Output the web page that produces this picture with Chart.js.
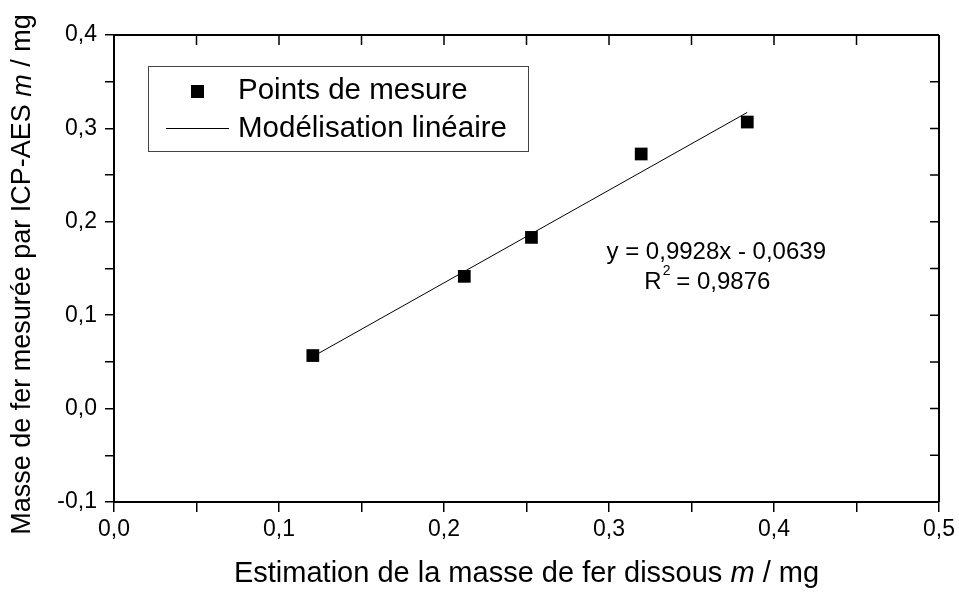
<!DOCTYPE html>
<html>
<head>
<meta charset="utf-8">
<script src="https://cdn.jsdelivr.net/npm/chart.js@4"></script>
<style>
  html, body { margin: 0; padding: 0; background: #fff; }
  #wrap { width: 959px; height: 595px; }
</style>
</head>
<body>
<div id="wrap"><canvas id="canvas" width="959" height="595"></canvas></div>
<script>
// values
var estimX = [0.1205, 0.2123, 0.253, 0.3195, 0.3838];
var mesureY = [0.0568, 0.1416, 0.1833, 0.2726, 0.3068];
var fitX = [0.1205, 0.3838];
var fitY = [0.0557, 0.3171];
var seriesNames = ['Points de mesure', 'Modélisation linéaire'];
var equationLines = ['y = 0,9928x - 0,0639', 'R', ' = 0,9876'];
var xTitle = [['Estimation de la masse de fer dissous ', false], ['m', true], [' / mg', false]];
var yTitle = [['Masse de fer mesurée par ICP-AES ', false], ['m', true], [' / mg', false]];

var FONT = '"Liberation Sans", Arial, sans-serif';

function pairs(xs, ys) {
    var out = [];
    for (var i = 0; i < xs.length; i++) out.push({x: xs[i], y: ys[i]});
    return out;
}

function fmt(v) {
    var t = Math.round(v * 100) / 100;
    if (Math.abs(Math.round(t * 10) - t * 10) > 1e-6) return '';
    return t.toFixed(1).replace('.', ',');
}

// draws a title with an italic part, centred on (cx, cy)
function mixedText(ctx, parts, size, cx, cy, angle) {
    var total = 0;
    parts.forEach(function(p) {
        ctx.font = (p[1] ? 'italic ' : '') + size + 'px ' + FONT;
        total += ctx.measureText(p[0]).width;
    });
    ctx.save();
    ctx.translate(cx, cy);
    ctx.rotate(angle);
    ctx.textAlign = 'left';
    ctx.textBaseline = 'middle';
    var x = -total / 2;
    parts.forEach(function(p) {
        ctx.font = (p[1] ? 'italic ' : '') + size + 'px ' + FONT;
        ctx.fillText(p[0], x, 0);
        x += ctx.measureText(p[0]).width;
    });
    ctx.restore();
}

// frame, inward ticks on top/right, legend box, titles and equation
var extras = {
    id: 'extras',
    afterDraw: function(chart) {
        var ctx = chart.ctx;
        var a = chart.chartArea;
        var xs = chart.scales.x, ys = chart.scales.y;
        ctx.save();
        ctx.strokeStyle = '#000';
        ctx.lineWidth = 2;
        ctx.beginPath();
        ctx.moveTo(a.left, a.top); ctx.lineTo(a.right, a.top);
        ctx.moveTo(a.right, a.top); ctx.lineTo(a.right, a.bottom);
        ctx.stroke();

        ctx.lineWidth = 1.5;
        ctx.beginPath();
        xs.ticks.forEach(function(t) {
            var px = xs.getPixelForValue(t.value);
            ctx.moveTo(px, a.top); ctx.lineTo(px, a.top + 10);
        });
        ys.ticks.forEach(function(t) {
            var py = ys.getPixelForValue(t.value);
            ctx.moveTo(a.right, py); ctx.lineTo(a.right - 9, py);
        });
        ctx.stroke();

        // legend
        ctx.lineWidth = 1;
        ctx.strokeStyle = '#444';
        ctx.strokeRect(148.5, 66.5, 380, 85);
        ctx.fillStyle = '#000';
        ctx.fillRect(191, 85, 13, 13);
        ctx.strokeStyle = '#000';
        ctx.beginPath();
        ctx.moveTo(166, 128.5); ctx.lineTo(229, 128.5);
        ctx.stroke();
        ctx.font = '29.5px ' + FONT;
        ctx.textBaseline = 'middle';
        ctx.textAlign = 'left';
        ctx.fillText(chart.data.datasets[0].label, 238, 91);
        ctx.fillText(chart.data.datasets[1].label, 238, 129);

        // axis titles
        mixedText(ctx, xTitle, 29, (a.left + a.right) / 2, 574, 0);
        mixedText(ctx, yTitle, 27, 23, (a.top + a.bottom) / 2 + 6, -Math.PI / 2);

        // equation
        ctx.font = '24px ' + FONT;
        ctx.textAlign = 'center';
        ctx.textBaseline = 'middle';
        var ex = xs.getPixelForValue(0.365), ey = ys.getPixelForValue(0.1677);
        ctx.fillText(equationLines[0], ex, ey);
        var rx = xs.getPixelForValue(0.3596), ry = ys.getPixelForValue(0.1355);
        var w1 = ctx.measureText(equationLines[1]).width;
        var w2 = ctx.measureText(equationLines[2]).width;
        var sx = rx - (w1 + w2 + 8) / 2;
        ctx.textAlign = 'left';
        ctx.fillText(equationLines[1], sx, ry);
        ctx.font = '14px ' + FONT;
        ctx.fillText('2', sx + w1 + 1, ry - 11);
        ctx.font = '24px ' + FONT;
        ctx.fillText(equationLines[2], sx + w1 + 8, ry);
        ctx.restore();
    }
};

var config = {
    type: 'scatter',
    data: {
        datasets: [{
            label: seriesNames[0],
            data: pairs(estimX, mesureY),
            pointStyle: 'rect',
            pointRadius: 9,
            pointHoverRadius: 9,
            backgroundColor: '#000',
            borderColor: '#000',
            borderWidth: 0
        }, {
            label: seriesNames[1],
            type: 'line',
            data: pairs(fitX, fitY),
            showLine: true,
            borderColor: '#000',
            borderWidth: 1,
            pointRadius: 0,
            fill: false
        }]
    },
    options: {
        responsive: false,
        animation: false,
        layout: { padding: { top: 35, right: 19, left: 0, bottom: 0 } },
        plugins: {
            legend: { display: false },
            tooltip: { enabled: false }
        },
        scales: {
            x: {
                type: 'linear',
                min: 0, max: 0.5,
                afterFit: function(s) { s.height = 93; },
                ticks: {
                    stepSize: 0.05,
                    autoSkip: false,
                    maxRotation: 0,
                    padding: 4,
                    color: '#000',
                    font: { family: FONT, size: 23 },
                    callback: function(v) { return fmt(v); }
                },
                grid: { drawOnChartArea: false, drawTicks: true, tickLength: 10, color: '#000', lineWidth: 1.5 },
                border: { display: true, color: '#000', width: 2 },
                title: { display: false }
            },
            y: {
                type: 'linear',
                min: -0.1, max: 0.4,
                afterFit: function(s) { s.width = 114; },
                ticks: {
                    stepSize: 0.05,
                    autoSkip: false,
                    padding: 8,
                    color: '#000',
                    font: { family: FONT, size: 23 },
                    callback: function(v) { return fmt(v); }
                },
                grid: { drawOnChartArea: false, drawTicks: true, tickLength: 9, color: '#000', lineWidth: 1.5 },
                border: { display: true, color: '#000', width: 2 },
                title: { display: false }
            }
        }
    },
    plugins: [extras]
};

var ctx = document.getElementById('canvas');
window.myChart = new Chart(ctx, config);
</script>
</body>
</html>
